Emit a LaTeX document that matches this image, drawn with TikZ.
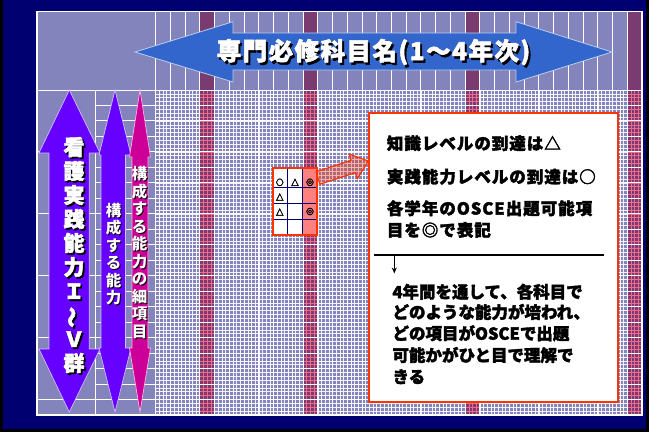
\documentclass[tikz,border=0pt]{standalone}
\usepackage{fontspec}
\usepackage{graphicx}
\usetikzlibrary{arrows.meta}
\newfontfamily\jp{Noto Sans CJK JP}
\newfontfamily\jpx{Noto Sans CJK JP}[BoldFeatures={FakeBold=2.2}]
\newfontfamily\jpls{Noto Sans CJK JP}[LetterSpace=6,BoldFeatures={FakeBold=2.2}]
\newfontfamily\dvs{DejaVu Sans}[FakeBold=2.5]
\definecolor{navy}{HTML}{000070}
\definecolor{lav}{HTML}{8484BC}
\definecolor{darkcol}{HTML}{7A3C70}
\definecolor{arrowblue}{HTML}{3366CC}
\definecolor{arrowedge}{HTML}{B8CCF0}
\definecolor{vio}{HTML}{6600FF}
\definecolor{violine}{HTML}{D0C0FF}
\definecolor{mag}{HTML}{CC0099}
\definecolor{magline}{HTML}{FFB0E0}
\definecolor{redline}{HTML}{FF3300}
\definecolor{cellpink}{HTML}{FF8080}
\definecolor{pinkline}{HTML}{FF7090}
\begin{document}
\begin{tikzpicture}[x=1pt,y=-1pt,
  mainln/.style={white, line width=1},
  fineln/.style={white, line width=0.6, opacity=0.9},
  pinkfine/.style={pinkline, line width=0.6, opacity=0.9},
  vioarrow/.style={fill=vio, draw=violine, line width=0.7},
  magarrow/.style={fill=mag, draw=magline, line width=0.7},
  bigv/.style={font=\jpx\bfseries\fontsize{21}{24}\selectfont, align=center, inner sep=0},
  smallv/.style={font=\jp\bfseries\fontsize{15.5}{17.5}\selectfont, align=center, inner sep=0},
  boxtxt/.style={font=\jpls\bfseries\fontsize{16.5}{20}\selectfont, anchor=west, inner sep=0},
  boxtxtb/.style={font=\jpx\bfseries\fontsize{16.5}{20}\selectfont, anchor=west, inner sep=0},
  sym/.style={font=\dvs\fontsize{9.5}{10}\selectfont, inner sep=0}
]
\useasboundingbox (0,0) rectangle (649,432);
\fill[black] (0,0) rectangle (649,432);
\fill[navy] (3,0) rectangle (646,429);
% panel
\fill[lav] (37,11.7) rectangle (642,415);
% fine grid
\foreach \i in {1,...,131} \draw[fineln] ({155.7+\i*3.6845},90) -- ++(0,325);
\foreach \j in {1,...,83} \draw[fineln] (155.7,{90+\j*3.869}) -- (642,{90+\j*3.869});
% dark columns
\foreach \k in {3,10,21,32} {
  \fill[darkcol] ({155.7+\k*14.738},11.7) rectangle ({155.7+(\k+1)*14.738},415);
  \foreach \s in {1,2,3} \draw[pinkfine] ({155.7+\k*14.738+\s*3.6845},90) -- ++(0,325);
  \foreach \j in {1,...,83} \draw[pinkfine] ({155.7+\k*14.738},{90+\j*3.869}) -- ++(14.738,0);
}
% main lines
\foreach \i in {0,...,33} \draw[mainln] ({155.7+\i*14.738},11.7) -- ++(0,403.3);
\foreach \j in {1,...,20} \draw[mainln] (95.7,{90+\j*15.476}) -- (642,{90+\j*15.476});
\foreach \j in {4,8,12,16,20} \draw[mainln] (37,{90+\j*15.476}) -- (95.7,{90+\j*15.476});
\draw[mainln] (95.7,90) -- (95.7,415);
\draw[mainln] (37,90) -- (642,90);
\draw[white, line width=1.2] (37,11.7) rectangle (642,415);

% header arrow
\draw[fill=arrowblue, draw=arrowedge, line width=0.8]
  (135,52) -- (233,21.7) -- (233,33) -- (516,33) -- (516,21.7) -- (612,52)
  -- (516,82) -- (516,70) -- (233,70) -- (233,82) -- cycle;
\node[font=\jpls\bfseries\fontsize{24.5}{28}\selectfont, text=black, inner sep=0] (hdrsh) at (375.5,54.5) {専門必修科目名(1～4年次)};
\node[font=\jpls\bfseries\fontsize{24.5}{28}\selectfont, text=white, inner sep=0] (hdr) at (373.5,52) {専門必修科目名(1～4年次)};

% vertical arrows
\draw[vioarrow] (69.3,90) -- (100,153) -- (89.3,153) -- (89.3,349) -- (100,349)
  -- (69.3,412) -- (39,349) -- (49,349) -- (49,153) -- (39,153) -- cycle;
\draw[vioarrow] (115,90) -- (131,155) -- (125.5,155) -- (125.5,348) -- (131,348)
  -- (115,412) -- (99,348) -- (101,348) -- (101,155) -- (99,155) -- cycle;
\draw[magarrow] (140,90) -- (150.5,157) -- (148,157) -- (148,348) -- (150.5,348)
  -- (140,412) -- (129.5,348) -- (132,348) -- (132,157) -- (129.5,157) -- cycle;

\node[bigv, text=black] (bigsh) at (75.8,256.8) {看\\護\\実\\践\\能\\力\\Ｉ\\\rotatebox[origin=c]{90}{～}\\Ｖ\\群};
\node[bigv, text=white] (big) at (74,255) {看\\護\\実\\践\\能\\力\\Ｉ\\\rotatebox[origin=c]{90}{～}\\Ｖ\\群};
\node[smallv, text=black] (midsh) at (114.5,255) {構\\成\\す\\る\\能\\力};
\node[smallv, text=white] (mid) at (113.5,254) {構\\成\\す\\る\\能\\力};
\node[smallv, text=black] (pinksh) at (140.5,253.5) {構\\成\\す\\る\\能\\力\\の\\細\\項\\目};
\node[smallv, text=white] (pinkt) at (139.5,252.5) {構\\成\\す\\る\\能\\力\\の\\細\\項\\目};

% small table
\fill[white] (272.7,168.3) rectangle (317.3,235);
\fill[cellpink] (302.3,168.3) rectangle (317.3,235);
\foreach \x in {287.3,302.3} \draw[navy, line width=0.9] (\x,168.3) -- (\x,235);
\foreach \y in {187.7,203.3,219} \draw[navy, line width=0.9] (272.7,\y) -- (317.3,\y);
\node[draw=redline, line width=2.2, minimum width=44.6, minimum height=66.7, inner sep=0] (tbl) at (295,201.65) {};
\node[sym] (s11) at (279.8,182.3) {○};
\node[sym] (s12) at (295,182.3) {△};
\node[sym] (s13) at (310,182.3) {◎};
\node[sym] (s21) at (279.8,197) {△};
\node[sym] (s31) at (279.8,212) {△};
\node[sym] (s33) at (310,211.5) {◎};

% box
\node[draw=redline, line width=2, fill=white, minimum width=248.7, minimum height=289, inner sep=0] (box) at (493.65,257.2) {};

% hollow arrow from table to box
\draw[fill=redline, fill opacity=0.35, draw=redline, line width=1.2, line join=round]
  (320.0,184.2) -- (355.2,172.7) -- (357.2,178.9) -- (box.west |- 0,161) -- (349.2,154.1)
  -- (351.2,160.3) -- (316.0,171.8) -- cycle;

\node[boxtxt] (t1) at (386.7,143.3) {知識レベルの到達は△};
\node[boxtxt] (t2) at (386.7,176.7) {実践能力レベルの到達は○};
\node[boxtxt] (t3) at (386.7,208.3) {各学年のOSCE出題可能項};
\node[boxtxt] (t4) at (386.7,230) {目を◎で表記};

\coordinate (la) at (374,255);
\coordinate (lb) at (604,255);
\coordinate (ar) at (394.3,255);
\coordinate (ae) at (394.3,273.5);
\draw[black, line width=2.8] (la) -- (lb);
\draw[black, line width=1.3, -{Stealth[length=6,width=5]}] (ar) -- (ae);

\node[boxtxtb] (b1) at (392.3,291.7) {4年間を通して、各科目で};
\node[boxtxtb] (b2) at (392.3,312) {どのような能力が培われ、};
\node[boxtxtb] (b3) at (392.3,333.3) {どの項目がOSCEで出題};
\node[boxtxtb] (b4) at (392.3,355) {可能かがひと目で理解で};
\node[boxtxtb] (b5) at (392.3,376.7) {きる};
\end{tikzpicture}
\end{document}
